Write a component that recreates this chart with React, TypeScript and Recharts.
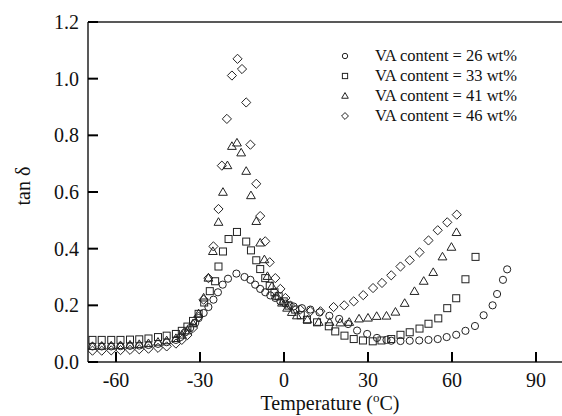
import { ScatterChart, Scatter, XAxis, YAxis, ReferenceLine } from "recharts";

// temperature (°C) and tan delta readings for each VA content
const t26 = [-68.4, -65.1, -61.7, -58.4, -55, -51.7, -48.4, -45, -41.9, -38.6, -37, -35.3, -33.5, -31.7, -30.5, -28.7, -27, -25.2, -23.6, -21.9, -20, -17, -14.1, -12, -10.3, -8.5, -6.7, -4.9, -3.1, -1.3, 0.5, 3.4, 6.4, 9.4, 12.7, 16.2, 19.7, 22.9, 26.1, 29.7, 33.2, 36.6, 38.3, 41.6, 44.9, 48.3, 51.6, 54.9, 58.1, 61.5, 64.8, 68.2, 71.3, 74.5, 76.1, 78.2, 79.7];
const tan26 = [0.055, 0.055, 0.055, 0.056, 0.057, 0.058, 0.06, 0.064, 0.07, 0.078, 0.088, 0.105, 0.12, 0.138, 0.155, 0.173, 0.194, 0.22, 0.246, 0.273, 0.294, 0.312, 0.3, 0.29, 0.273, 0.258, 0.246, 0.235, 0.226, 0.214, 0.206, 0.196, 0.19, 0.185, 0.175, 0.163, 0.152, 0.134, 0.111, 0.099, 0.085, 0.078, 0.075, 0.074, 0.075, 0.076, 0.078, 0.081, 0.088, 0.096, 0.11, 0.127, 0.165, 0.2, 0.24, 0.29, 0.327];

const t33 = [-68.4, -65.1, -61.7, -58.4, -55, -51.7, -48.4, -45, -41.9, -38.6, -36.5, -34.5, -32.5, -30.5, -28.5, -26.5, -24.6, -23.4, -21.8, -19.8, -16.8, -13.5, -11.8, -9.9, -8.5, -6.7, -5.1, -3.4, -1.9, -0.1, 1.6, 4, 6, 8.2, 11.8, 16, 18.3, 21.6, 24.9, 28.2, 31.7, 34.8, 38.3, 41.6, 44.9, 48.4, 51.6, 55.1, 58.3, 61.5, 64.8, 68.4];
const tan33 = [0.078, 0.078, 0.078, 0.078, 0.079, 0.08, 0.083, 0.088, 0.093, 0.099, 0.11, 0.125, 0.145, 0.17, 0.21, 0.25, 0.285, 0.337, 0.39, 0.434, 0.459, 0.425, 0.394, 0.359, 0.328, 0.296, 0.269, 0.246, 0.232, 0.214, 0.199, 0.185, 0.165, 0.149, 0.14, 0.126, 0.108, 0.093, 0.081, 0.076, 0.073, 0.076, 0.081, 0.096, 0.105, 0.118, 0.135, 0.154, 0.19, 0.225, 0.292, 0.371];

const t41 = [-68.4, -65.1, -61.7, -58.4, -55, -51.7, -48.4, -45, -41.9, -38.6, -36.5, -34.5, -32.5, -30.5, -28.7, -27, -25.4, -23.4, -21.8, -20.2, -18.6, -16.8, -15.3, -13.5, -11.8, -9.9, -8.5, -7, -5.9, -4.3, -2.5, -0.7, 1.1, 2.8, 4.6, 8.4, 12.4, 16.3, 20.1, 23.3, 26.8, 30, 33.1, 36.6, 39.8, 43.1, 46.6, 49.9, 53.3, 56.6, 59.8, 61.6];
const tan41 = [0.055, 0.056, 0.057, 0.058, 0.06, 0.062, 0.065, 0.07, 0.075, 0.083, 0.095, 0.11, 0.135, 0.17, 0.226, 0.296, 0.39, 0.493, 0.599, 0.693, 0.761, 0.773, 0.738, 0.673, 0.587, 0.496, 0.42, 0.361, 0.302, 0.267, 0.232, 0.208, 0.19, 0.175, 0.163, 0.149, 0.14, 0.14, 0.138, 0.14, 0.152, 0.155, 0.161, 0.162, 0.176, 0.207, 0.249, 0.285, 0.316, 0.371, 0.405, 0.457];

const t46 = [-68.4, -65.1, -61.7, -58.4, -55, -51.7, -48.4, -45, -41.9, -38.6, -36.5, -34.5, -32.5, -30.5, -28.7, -27, -25.2, -23.4, -22.2, -20.4, -18.6, -16.6, -15, -13.5, -12, -9.9, -8.5, -6.7, -5.1, -3.1, -1.3, 0.5, 2.3, 5.8, 9.4, 13, 17.7, 21.5, 24.9, 28.3, 31.8, 35, 38.3, 41.6, 44.9, 48.4, 51.6, 54.9, 58.3, 61.7];
const tan46 = [0.04, 0.04, 0.041, 0.042, 0.043, 0.045, 0.047, 0.05, 0.055, 0.065, 0.078, 0.095, 0.12, 0.16, 0.22, 0.296, 0.408, 0.54, 0.693, 0.858, 1.011, 1.07, 1.034, 0.916, 0.767, 0.629, 0.515, 0.426, 0.352, 0.296, 0.258, 0.226, 0.199, 0.185, 0.179, 0.179, 0.194, 0.2, 0.214, 0.236, 0.261, 0.279, 0.306, 0.337, 0.359, 0.387, 0.429, 0.465, 0.493, 0.52];

const xTicks = [-60, -30, 0, 30, 60, 90];
const yTicks = [0, 0.2, 0.4, 0.6, 0.8, 1.0, 1.2];
const seriesNames = ["VA content = 26 wt%", "VA content = 33 wt%", "VA content = 41 wt%", "VA content = 46 wt%"];

const zip = (t: number[], v: number[]) => t.map((x, i) => ({ temp: x, tan: v[i] }));

const FONT = "'Liberation Serif', 'DejaVu Serif', serif";
const INK = "#222";
const TICK_LEN = 10;
const X_GAP = 11;
const Y_GAP = 9;

function Marker({ kind, cx, cy, s = 1 }: { kind: number; cx: number; cy: number; s?: number }) {
  const p = { fill: "none", stroke: INK, strokeWidth: 1 };
  if (kind === 0) return <circle cx={cx} cy={cy} r={3.6 * s} {...p} />;
  if (kind === 1) return <rect x={cx - 3.5 * s} y={cy - 3.5 * s} width={7 * s} height={7 * s} {...p} />;
  if (kind === 2)
    return (
      <polygon
        points={`${cx},${cy - 4.6 * s} ${cx - 4.4 * s},${cy + 3 * s} ${cx + 4.4 * s},${cy + 3 * s}`}
        {...p}
      />
    );
  return (
    <polygon
      points={`${cx},${cy - 4.6 * s} ${cx + 4.6 * s},${cy} ${cx},${cy + 4.6 * s} ${cx - 4.6 * s},${cy}`}
      {...p}
    />
  );
}

const shapeFor = (kind: number) => (props: any) => <Marker kind={kind} cx={props.cx} cy={props.cy} />;

// inward tick marks are drawn together with the label
function XTick(props: any) {
  const { x, y, payload } = props;
  const axisY = y - X_GAP;
  return (
    <g>
      <line x1={x} x2={x} y1={axisY} y2={axisY - TICK_LEN} stroke="#000" strokeWidth={2} />
      <text x={x} y={y} dy="0.71em" textAnchor="middle" fontFamily={FONT} fontSize={20} fill="#111">
        {payload.value}
      </text>
    </g>
  );
}

function YTick(props: any) {
  const { x, y, payload } = props;
  const axisX = x + Y_GAP;
  return (
    <g>
      <line x1={axisX} x2={axisX + TICK_LEN} y1={y} y2={y} stroke="#000" strokeWidth={2} />
      <text x={x} y={y} dy="0.355em" textAnchor="end" fontFamily={FONT} fontSize={20} fill="#111">
        {Number(payload.value).toFixed(1)}
      </text>
    </g>
  );
}

function LegendBox() {
  return (
    <div
      style={{
        position: "absolute",
        left: 335,
        top: 46,
        fontFamily: FONT,
        fontSize: 16.5,
        color: "#111",
        lineHeight: "20px",
        whiteSpace: "nowrap",
      }}
    >
      {seriesNames.map((name, i) => (
        <div key={name} style={{ display: "flex", alignItems: "center", height: 20 }}>
          <svg width={40} height={20}>
            <Marker kind={i} cx={10} cy={10} s={0.75} />
          </svg>
          <span>{name}</span>
        </div>
      ))}
    </div>
  );
}

function XTitle() {
  return (
    <text x={330} y={410} textAnchor="middle" fontFamily={FONT} fontSize={20} fill="#111">
      <tspan>Temperature (</tspan>
      <tspan dy={-8} fontSize={13}>o</tspan>
      <tspan dy={8}>C)</tspan>
    </text>
  );
}

function YTitle() {
  return (
    <text
      x={23}
      y={186}
      transform="rotate(-90 23 186)"
      textAnchor="middle"
      dominantBaseline="central"
      fontFamily={FONT}
      fontSize={20}
      fill="#111"
    >
      tan δ
    </text>
  );
}

export default function App() {
  return (
    <div style={{ position: "absolute", left: 0, top: 0, width: 562, height: 416, overflow: "hidden", background: "#fff" }}>
      <ScatterChart width={600} height={416} margin={{ top: 22, right: 36, left: 0, bottom: 0 }}>
        <XAxis
          type="number"
          dataKey="temp"
          domain={[-70, 100]}
          ticks={xTicks}
          allowDataOverflow
          height={54}
          tickLine={false}
          tickSize={0}
          tickMargin={X_GAP}
          axisLine={{ stroke: INK, strokeWidth: 1.5 }}
          tick={<XTick />}
          label={<XTitle />}
        />
        <YAxis
          type="number"
          dataKey="tan"
          domain={[0, 1.2]}
          ticks={yTicks}
          width={88}
          tickLine={false}
          tickSize={0}
          tickMargin={Y_GAP}
          axisLine={{ stroke: INK, strokeWidth: 1.5 }}
          tick={<YTick />}
          label={<YTitle />}
        />
        <ReferenceLine y={1.2} stroke={INK} strokeWidth={1.5} />
        <Scatter name={seriesNames[0]} data={zip(t26, tan26)} shape={shapeFor(0)} isAnimationActive={false} />
        <Scatter name={seriesNames[1]} data={zip(t33, tan33)} shape={shapeFor(1)} isAnimationActive={false} />
        <Scatter name={seriesNames[2]} data={zip(t41, tan41)} shape={shapeFor(2)} isAnimationActive={false} />
        <Scatter name={seriesNames[3]} data={zip(t46, tan46)} shape={shapeFor(3)} isAnimationActive={false} />
      </ScatterChart>
      <LegendBox />
    </div>
  );
}
